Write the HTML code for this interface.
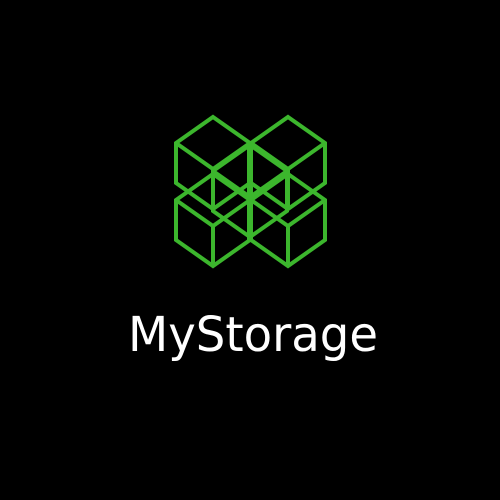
<!DOCTYPE html>
<html><head><style>html,body{margin:0;padding:0;background:#000;}svg{display:block}</style></head>
<body>
<svg width="500" height="500" viewBox="0 0 500 500" xmlns="http://www.w3.org/2000/svg">
<rect width="500" height="500" fill="#000"/>
<defs>
<g id="cube" fill="none" stroke="#3cb62d" stroke-width="4" stroke-linejoin="miter">
<polygon points="0,0 37,26 37,66 0,92 -37,66 -37,26"/>
<polyline points="-37,26 0,52 37,26"/>
<line x1="0" y1="52" x2="0" y2="92"/>
</g>
</defs>
<use href="#cube" x="213" y="117"/>
<use href="#cube" x="288" y="117"/>
<use href="#cube" x="213" y="174"/>
<use href="#cube" x="288" y="174"/>
<use href="#cube" x="250" y="145"/>
<line x1="250" y1="143" x2="250" y2="240" stroke="#3cb62d" stroke-width="6"/>
<text x="128" y="351" textLength="250" lengthAdjust="spacingAndGlyphs" font-family="'DejaVu Sans','Liberation Sans',sans-serif" font-size="48" fill="#fff">MyStorage</text>
</svg>
</body></html>
